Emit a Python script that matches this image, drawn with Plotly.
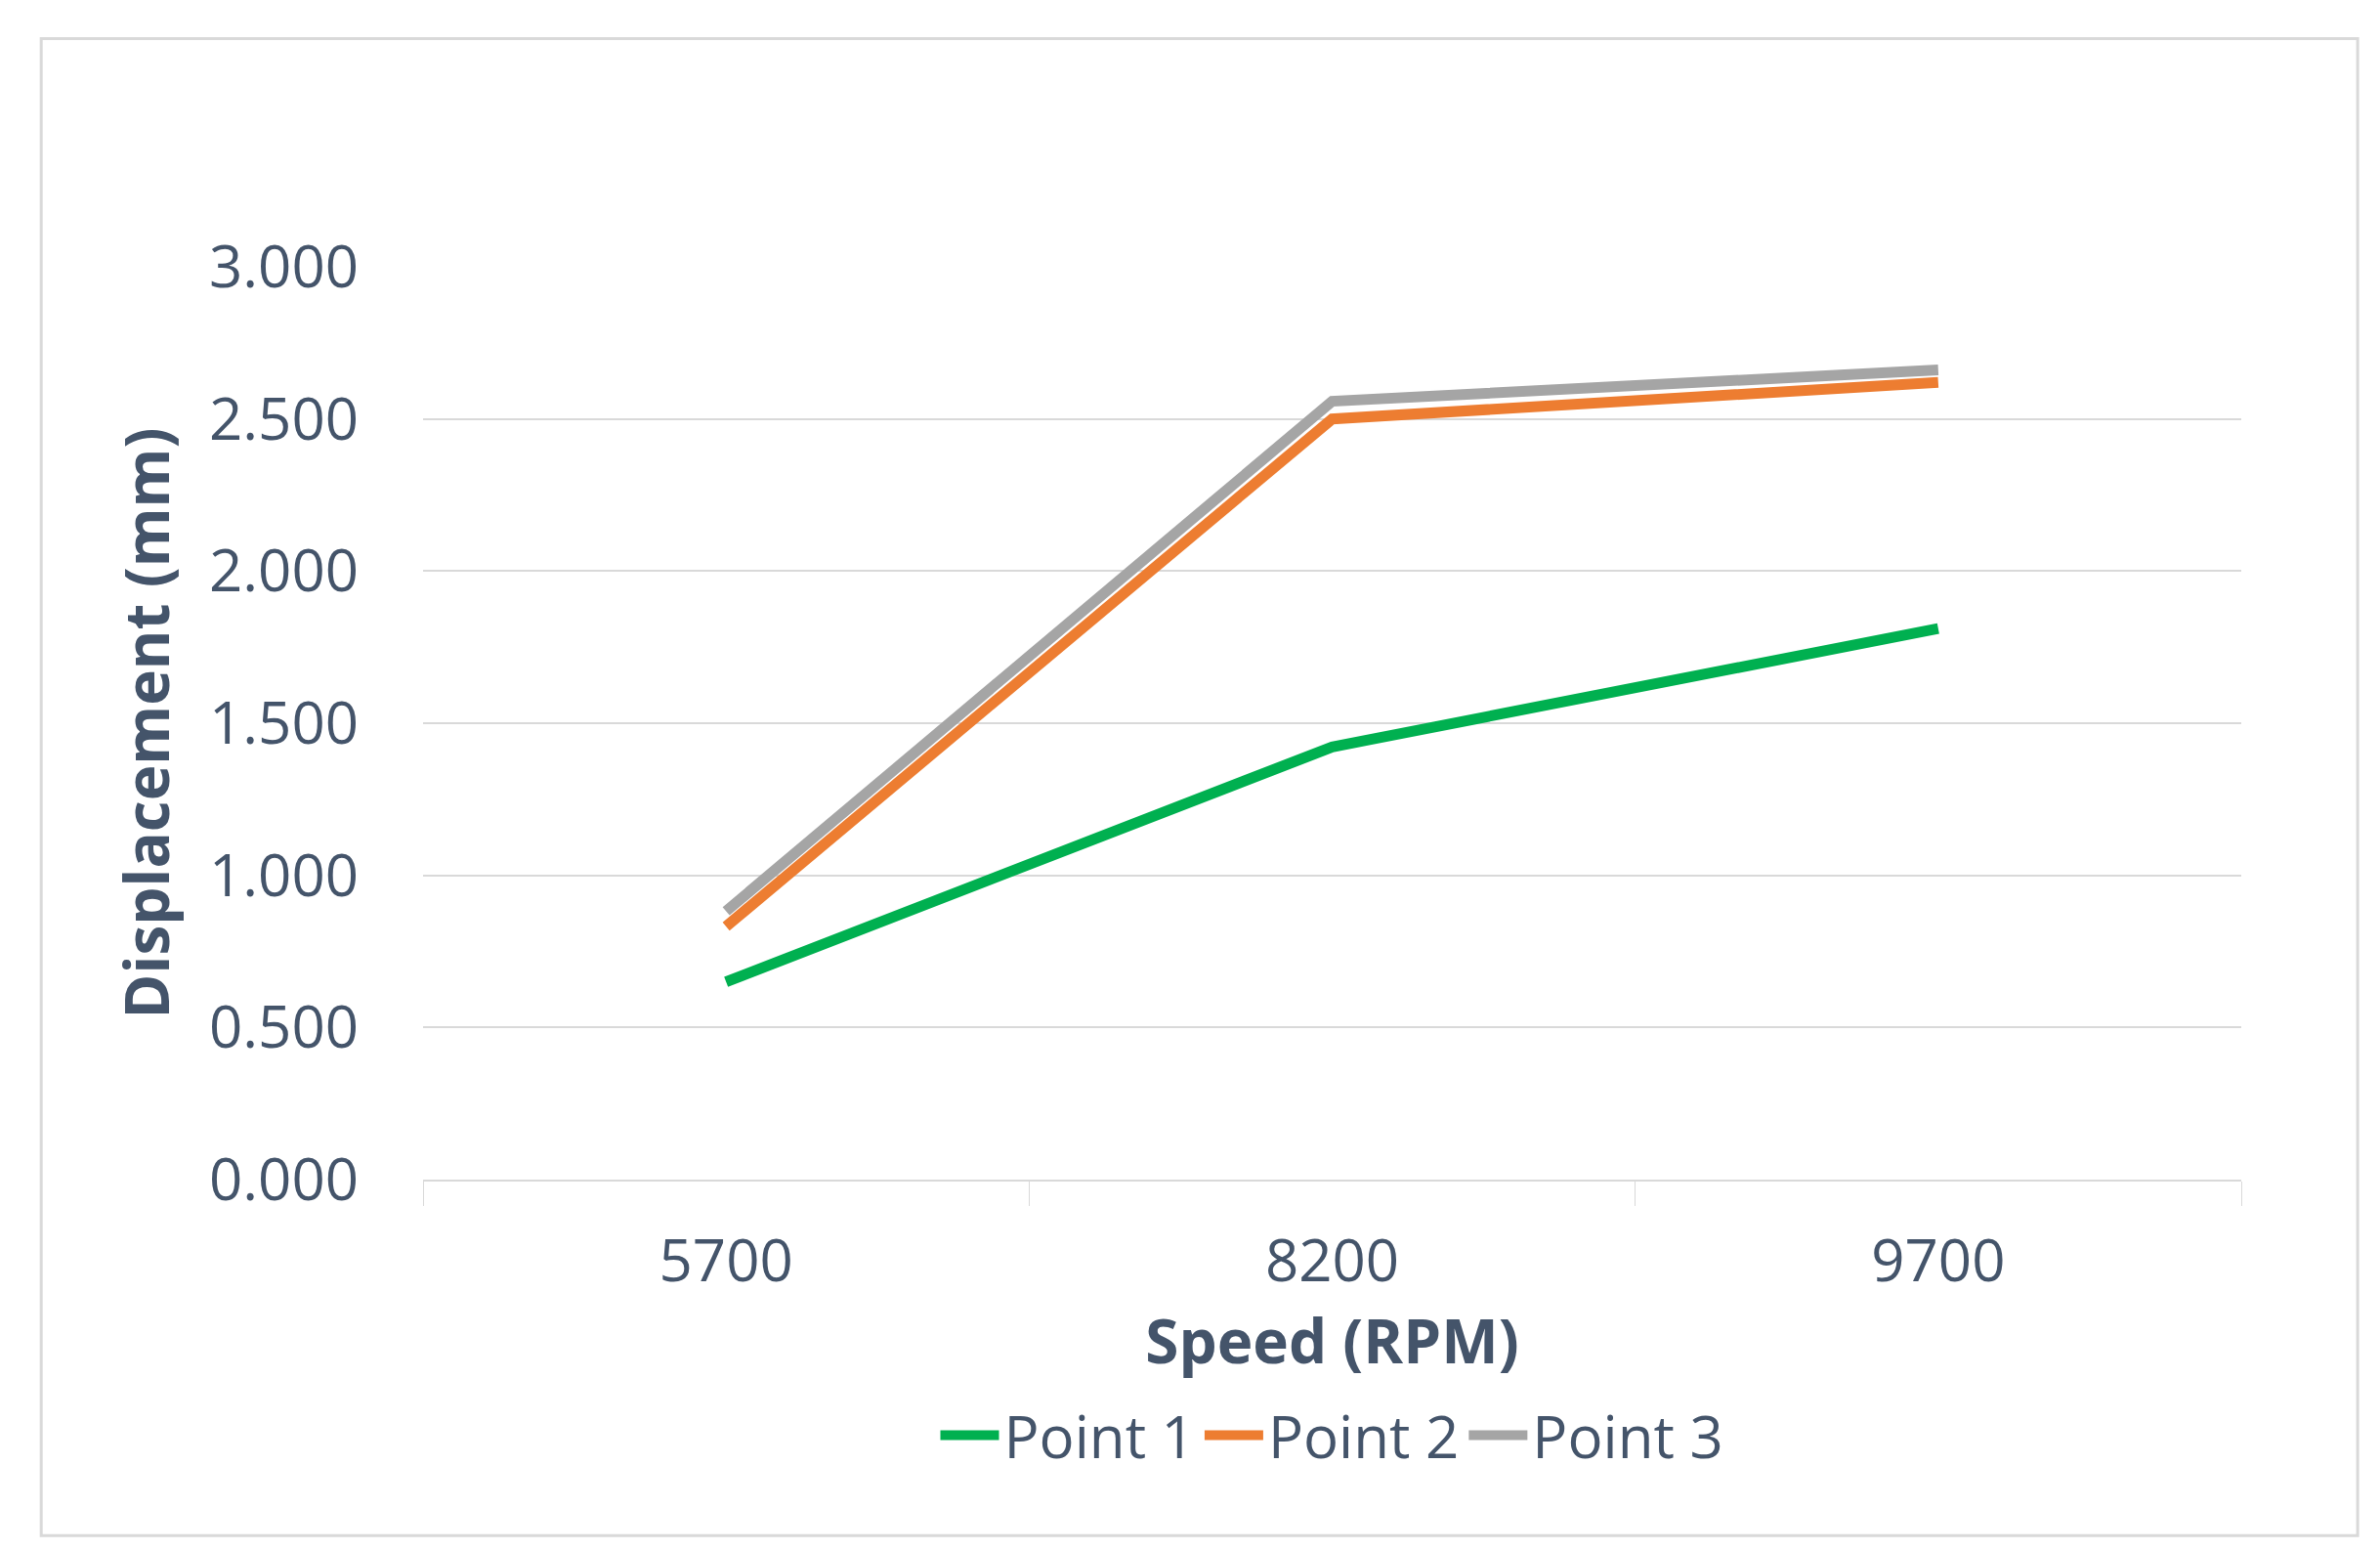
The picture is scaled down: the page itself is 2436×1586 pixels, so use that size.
import plotly.graph_objects as go

speeds = ["5700", "8200", "9700"]
point1 = [0.650, 1.422, 1.811]
point2 = [0.832, 2.500, 2.620]
point3 = [0.882, 2.558, 2.661]

names = ["Point 1", "Point 2", "Point 3"]
colors = ["#00b050", "#ed7d31", "#a5a5a5"]
label_shift = [0, 0, 86]
txt = "#44546a"

fig = go.Figure()
annotations = []
for name, vals, col, dy in zip(names, [point1, point2, point3], colors, label_shift):
    fig.add_trace(go.Scatter(
        x=speeds, y=vals, name=name, mode="lines",
        line=dict(color=col, width=11),
    ))
    for s, v in zip(speeds, vals):
        annotations.append(dict(x=s, y=v, text=f"{v:.3f}", showarrow=False,
                                yshift=dy, font=dict(size=60, color=txt)))

fig.update_layout(
    width=2436, height=1586,
    paper_bgcolor="white", plot_bgcolor="white",
    font=dict(family="Open Sans", color=txt, size=60),
    margin=dict(l=425, r=150, t=265, b=387),
    showlegend=True,
    legend=dict(orientation="h", x=0.5, xanchor="center", y=-0.28, yanchor="middle",
                font=dict(size=60, color=txt), itemwidth=60),
    annotations=annotations,
    xaxis=dict(
        type="category", range=[-0.5, 2.5], tickson="boundaries", ticks="outside", ticklen=25,
        tickcolor="#d9d9d9", showline=True, linecolor="#d9d9d9", linewidth=2,
        showgrid=False, ticklabelstandoff=30,
        title=dict(text="<b>Speed (RPM)</b>", font=dict(size=62, color=txt), standoff=20),
    ),
    yaxis=dict(
        range=[0, 3.0], dtick=0.5, tickformat=".3f",
        gridcolor="#d9d9d9", gridwidth=2, zeroline=False, ticks="",
        ticklabelstandoff=65,
        title=dict(text="<b>Displacement (mm)</b>", font=dict(size=62, color=txt), standoff=20),
    ),
    shapes=[dict(type="rect", xref="paper", yref="paper",
                 x0=-0.21, x1=1.064, y0=-0.39, y1=1.25,
                 line=dict(color="#d9d9d9", width=3))],
)

fig.write_html("out.html")
